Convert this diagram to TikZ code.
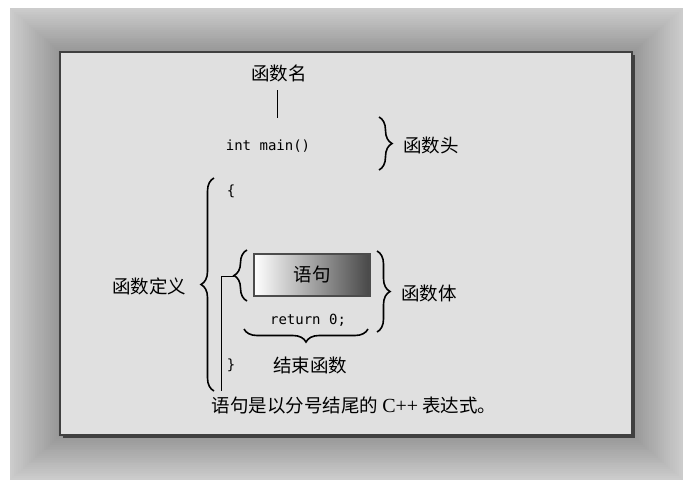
\documentclass[tikz,border=0pt]{standalone}
\usepackage{fontspec}
\setmainfont{Liberation Serif}
\setmonofont{DejaVu Sans Mono}
\newfontfamily\cjk{Noto Sans CJK SC}
\usetikzlibrary{decorations.pathreplacing}
\begin{document}
\begin{tikzpicture}[x=1pt,y=-1pt]

\tikzset{cjktext/.style = {font=\cjk\fontsize{18.5}{22}\selectfont, inner sep=0pt}}
\tikzset{codetext/.style = {font=\ttfamily\fontsize{14}{16}\selectfont, inner sep=0pt}}
\tikzset{brace/.style = {decorate, decoration={brace, amplitude=13pt}, line width=1.6pt}}
\tikzset{stmtbox/.style = {draw=black!70, line width=1.5pt, left color=white, right color=black!72, minimum width=116pt, minimum height=42pt, inner sep=0pt}}
%frame
\useasboundingbox (0,0) rectangle (692,488);
\fill[white] (0,0) rectangle (692,488);
\foreach \i in {0,...,23} {
  \pgfmathsetmacro\sh{20+\i*0.9}
  \fill[black!\sh] (10+2.1*\i,8+1.85*\i) rectangle (683-2.1*\i,480-1.85*\i);
}
\fill[black!75] (63,55) rectangle (635,438);
\draw[black!75, line width=1.5pt, fill=black!12] (60,52) rectangle (632,435);
%nodes
\node[cjktext] (fname) at (279,73) {函数名};
\node[codetext] (main) at (268,146) {int main()};
\node[cjktext] (fhead) at (431,145) {函数头};
\node[cjktext] (fdef) at (149,286) {函数定义};
\node[codetext] (lb) at (231,191) {\{};
\node[codetext] (rb) at (231,365) {\}};
\node[stmtbox] (stmt) at (312,275) {};
\node[cjktext] at (stmt) {语句};
\node[codetext] (ret) at (308,320) {return 0;};
\node[cjktext] (fbody) at (429,293) {函数体};
\node[cjktext] (fend) at (310,365) {结束函数};
\node[cjktext] (note) at (354,405) {语句是以分号结尾的 {\rmfamily\fontsize{20}{22}\selectfont C++} 表达式。};
%braces
\coordinate (headtop) at (379,117);
\coordinate (headbot) at (379,170);
\coordinate (deftop) at (214,178);
\coordinate (defbot) at (214,391);
\coordinate (stmttop) at (247,250);
\coordinate (stmtbot) at (247,301);
\coordinate (bodytop) at (377,251);
\coordinate (bodybot) at (377,332);
\coordinate (endleft) at (244,329);
\coordinate (endright) at (368,329);
\draw[brace] (headtop) -- (headbot);
\draw[brace] (defbot) -- (deftop);
\draw[brace] (stmtbot) -- (stmttop);
\draw[brace] (bodytop) -- (bodybot);
\draw[brace] (endright) -- (endleft);
%lines
\coordinate (nametop) at (277,90);
\coordinate (namebot) at (277,118);
\coordinate (stmttip) at (234,276);
\coordinate (noteline) at (221,391);
\draw[line width=1pt] (nametop) -- (namebot);
\draw[line width=1pt] (stmttip) -| (noteline);

\end{tikzpicture}
\end{document}
